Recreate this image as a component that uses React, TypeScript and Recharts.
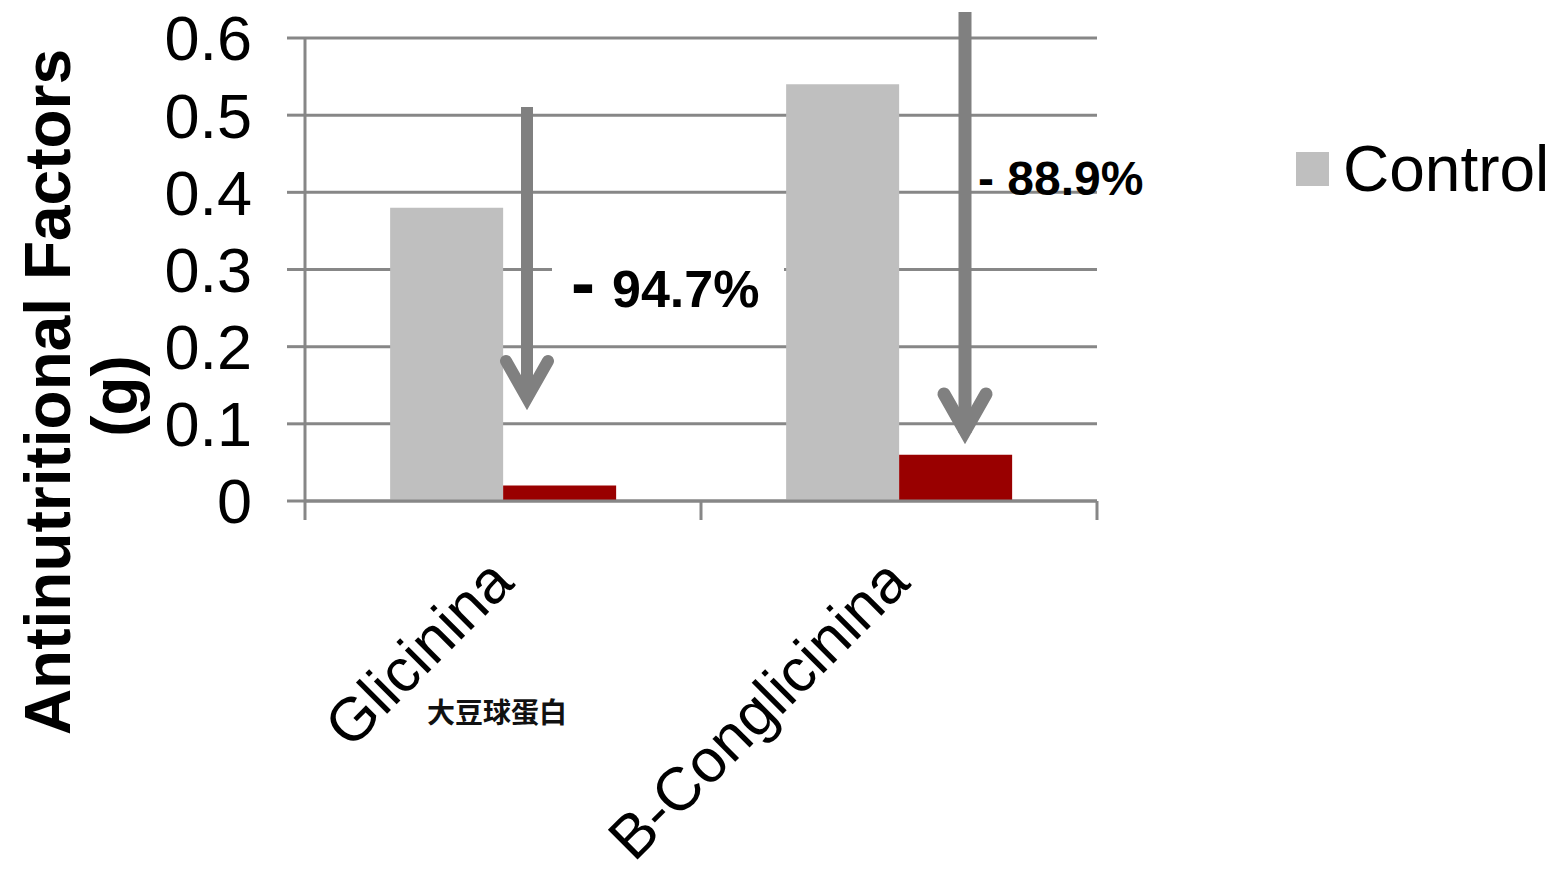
import React from "react";
import { BarChart, Bar, XAxis, YAxis, CartesianGrid, Legend } from "recharts";

// Soy antinutritional factors, control vs treated (g)
const CATEGORIES = ["Glicinina", "B-Conglicinina"];
const CATEGORY_NOTES = ["大豆球蛋白", ""];
const CONTROL = [0.38, 0.54];
const TREATED = [0.02, 0.06];
const Y_TICKS = [0, 0.1, 0.2, 0.3, 0.4, 0.5, 0.6];

const data = CATEGORIES.map((name, i) => ({
  name,
  note: CATEGORY_NOTES[i],
  control: CONTROL[i],
  treated: TREATED[i],
}));

// percent drop from control to treated, e.g. "94.7%"
const reduction = (i: number) =>
  `${(100 * (1 - TREATED[i] / CONTROL[i])).toFixed(1)}%`;

const W = 1554;
const H = 871;
const Y_AXIS_W = 305;
const RIGHT = 457;
const TOP = 38;
const X_AXIS_H = 370;
const BAND = (W - Y_AXIS_W - RIGHT) / CATEGORIES.length;

const FONT = "'Liberation Sans', Arial, sans-serif";
const LINE = "#878787";
const ARROW = "#808080";

function CategoryTick(props: any) {
  const { x, y, index, payload } = props;
  const half = BAND / 2;
  const note = CATEGORY_NOTES[index];
  return (
    <g>
      <line x1={x - half} x2={x - half} y1={y} y2={y + 19} stroke={LINE} strokeWidth={3} />
      {index === CATEGORIES.length - 1 && (
        <line x1={x + half} x2={x + half} y1={y} y2={y + 19} stroke={LINE} strokeWidth={3} />
      )}
      <text
        transform={`translate(${x + 13},${y + 84}) rotate(-45)`}
        textAnchor="end"
        fontSize={61}
        fontFamily={FONT}
        fill="#000"
      >
        {payload.value}
      </text>
      {note && (
        <text
          x={x - 6}
          y={y + 222}
          textAnchor="middle"
          fontSize={28}
          fontWeight="bold"
          fontFamily="'Noto Sans CJK SC', sans-serif"
          fill="#111"
        >
          {note}
        </text>
      )}
    </g>
  );
}

function LegendBox(props: any) {
  const items = (props.payload || []).filter((p: any) => p.type !== "none");
  return (
    <div>
      {items.map((p: any) => (
        <div key={p.value} style={{ display: "flex", alignItems: "center" }}>
          <span style={{ width: 33, height: 34, background: p.color, display: "inline-block" }} />
          <span
            style={{
              marginLeft: 14,
              fontFamily: FONT,
              fontSize: 64,
              lineHeight: "64px",
              color: "#000",
            }}
          >
            {p.value}
          </span>
        </div>
      ))}
    </div>
  );
}

function Arrow({ x, top, tip, width }: { x: number; top: number; tip: number; width: number }) {
  const armY = tip - 49;
  return (
    <g stroke={ARROW} strokeWidth={width} fill="none">
      <line x1={x} x2={x} y1={top} y2={tip - 10} />
      <polyline
        points={`${x - 21},${armY} ${x},${tip - 12} ${x + 21},${armY}`}
        strokeLinecap="round"
        strokeLinejoin="miter"
      />
    </g>
  );
}

export default function App() {
  return (
    <div style={{ position: "absolute", left: 0, top: 0, width: W, height: H, background: "#fff" }}>
      <BarChart
        width={W}
        height={H}
        data={data}
        margin={{ top: TOP, right: RIGHT, bottom: 0, left: 0 }}
        barCategoryGap="21.5%"
        barGap={0}
      >
        <CartesianGrid vertical={false} stroke={LINE} strokeWidth={3} />
        <XAxis
          dataKey="name"
          height={X_AXIS_H}
          axisLine={{ stroke: LINE, strokeWidth: 3 }}
          tickLine={false}
          tickSize={0}
          tickMargin={0}
          interval={0}
          tick={<CategoryTick />}
        />
        <YAxis
          width={Y_AXIS_W}
          domain={[0, 0.6]}
          ticks={Y_TICKS}
          interval={0}
          axisLine={{ stroke: LINE, strokeWidth: 3 }}
          tickLine={{ stroke: LINE, strokeWidth: 3 }}
          tickSize={18}
          tickMargin={35}
          tick={{ fill: "#000", fontSize: 63, fontFamily: FONT }}
        />
        <Legend
          verticalAlign="top"
          align="right"
          content={<LegendBox />}
          wrapperStyle={{
            position: "absolute",
            left: 1296,
            top: 137,
            width: 260,
            height: 0,
            overflow: "visible",
          }}
        />
        <Bar dataKey="control" name="Control" fill="#bfbfbf" isAnimationActive={false} />
        <Bar dataKey="treated" name="Treated" fill="#990000" legendType="none" isAnimationActive={false} />
      </BarChart>

      <svg
        width={W}
        height={H}
        style={{ position: "absolute", left: 0, top: 0, pointerEvents: "none" }}
      >
        <text
          transform="translate(70,392) rotate(-90)"
          textAnchor="middle"
          fontFamily={FONT}
          fontWeight="bold"
          fontSize={64}
          fill="#000"
        >
          Antinutritional Factors
        </text>
        <text
          transform="translate(137,396) rotate(-90)"
          textAnchor="middle"
          fontFamily={FONT}
          fontWeight="bold"
          fontSize={64}
          fill="#000"
        >
          (g)
        </text>

        <Arrow x={527} top={107} tip={410} width={12} />
        <rect x={552} y={232} width={232} height={92} fill="#fff" />
        <text fontFamily={FONT} fontWeight="bold" fill="#000" y={307}>
          <tspan x={571} fontSize={72}>-</tspan>
          <tspan x={612} fontSize={52}>{reduction(0)}</tspan>
        </text>

        <Arrow x={965} top={12} tip={443} width={13} />
        <text x={978} y={195} fontFamily={FONT} fontWeight="bold" fontSize={48} fill="#000">
          {`- ${reduction(1)}`}
        </text>
      </svg>
    </div>
  );
}
